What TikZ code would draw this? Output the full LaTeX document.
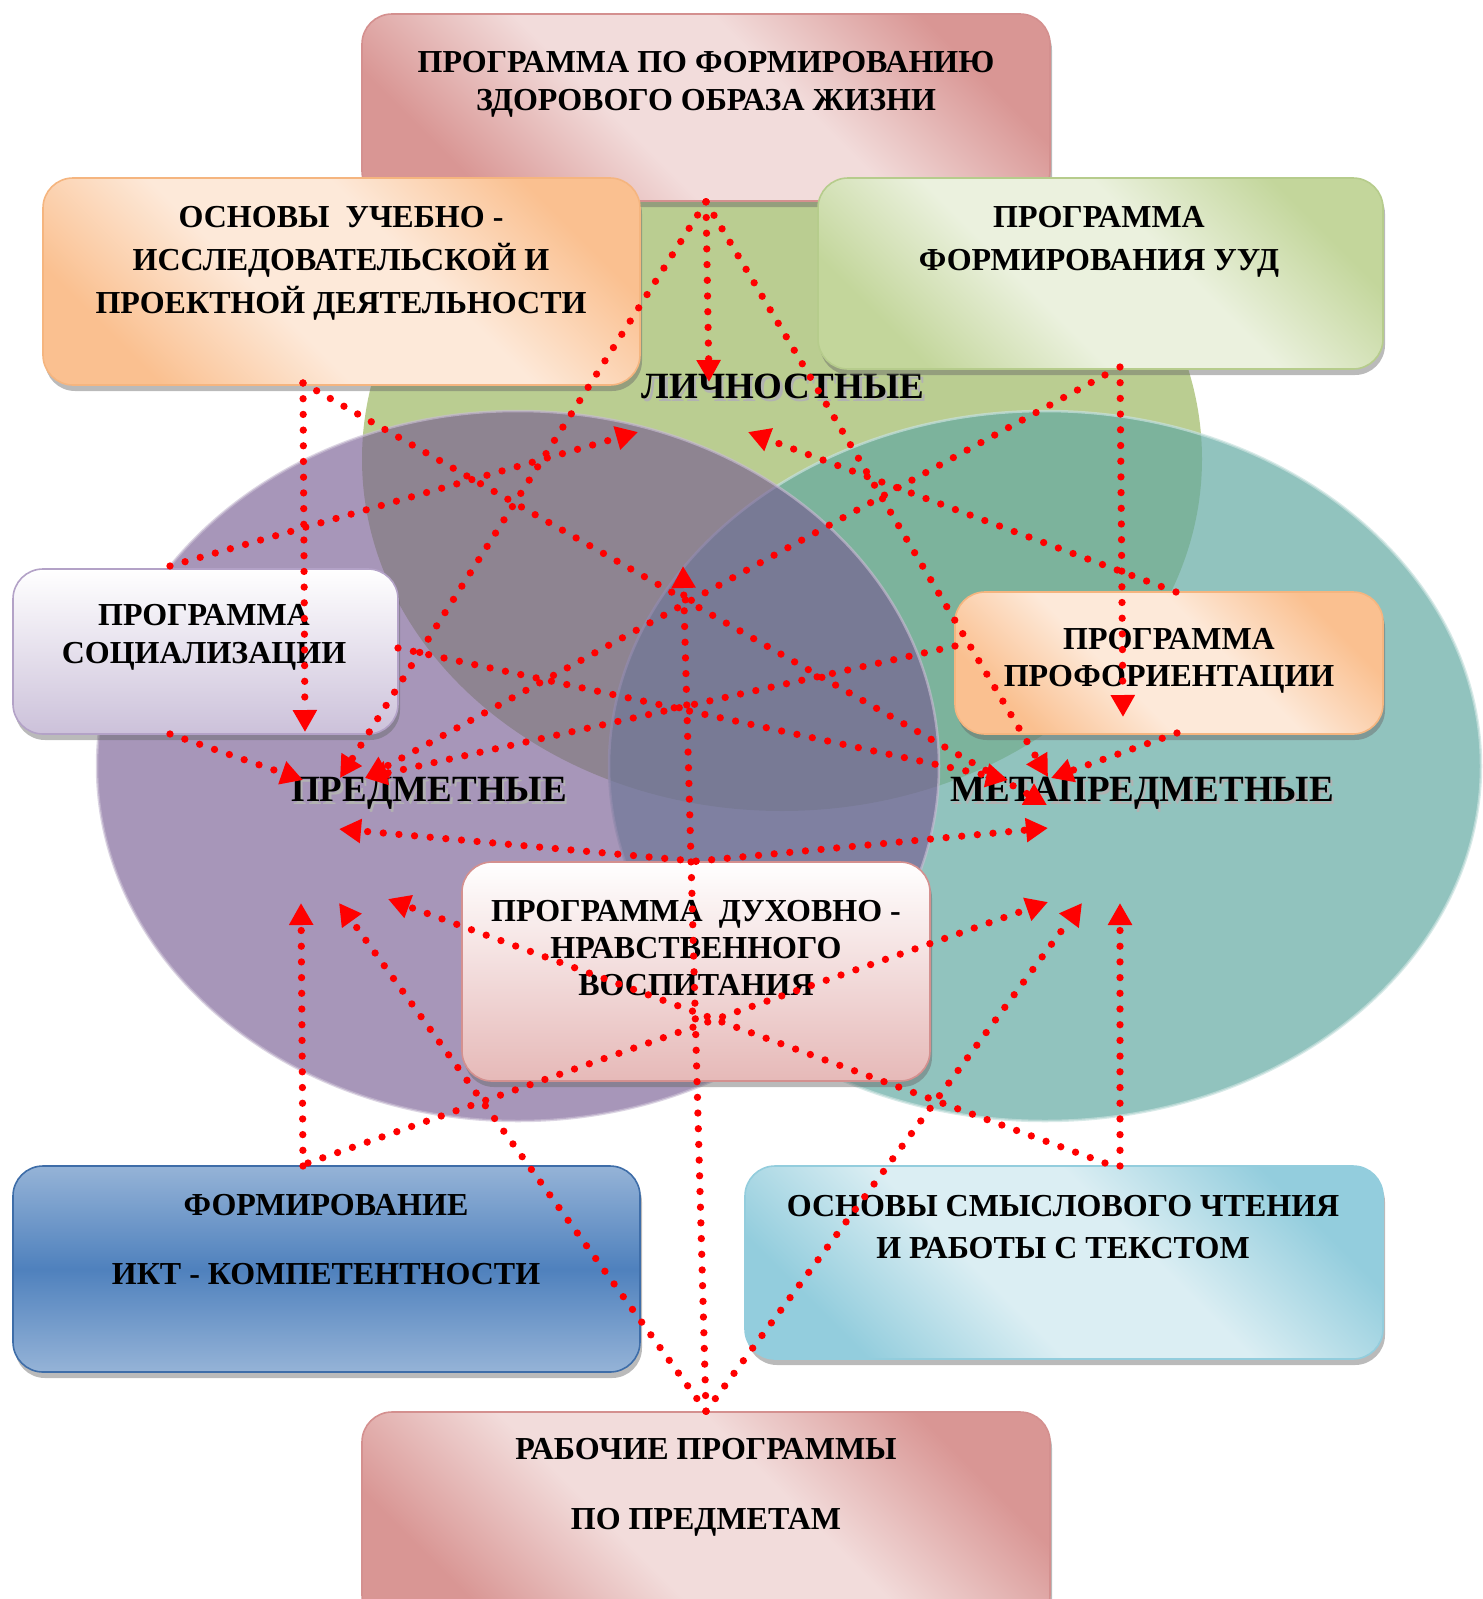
\documentclass[tikz,border=0pt]{standalone}
\usepackage{fontspec}
\setmainfont{Liberation Serif}
\usetikzlibrary{arrows.meta,shadows}

\definecolor{pinkDark}{HTML}{D99694}
\definecolor{pinkLight}{HTML}{F2DCDB}
\definecolor{pinkLine}{HTML}{D4908F}
\definecolor{orangeDark}{HTML}{FAC090}
\definecolor{orangeLight}{HTML}{FDE9D9}
\definecolor{orangeLine}{HTML}{F5B57F}
\definecolor{greenDark}{HTML}{C3D69B}
\definecolor{greenLight}{HTML}{EBF1DE}
\definecolor{greenLine}{HTML}{B6CC8C}
\definecolor{lilacDark}{HTML}{CCC1DA}
\definecolor{lilacLine}{HTML}{B3A2C7}
\definecolor{roseDark}{HTML}{E6B9B8}
\definecolor{blueDark}{HTML}{4F81BD}
\definecolor{blueLight}{HTML}{95B3D7}
\definecolor{blueLine}{HTML}{3E6DA8}
\definecolor{aquaDark}{HTML}{93CDDD}
\definecolor{aquaLight}{HTML}{DBEEF3}
\definecolor{ellGreen}{HTML}{BACD91}
\definecolor{ellTeal}{HTML}{63A9A2}
\definecolor{ellPurple}{HTML}{765B92}
\definecolor{fluxRed}{HTML}{FF0000}

% diagonal bands: dark corners, light middle
\pgfdeclareverticalshading{pinkBand}{100bp}{color(0bp)=(pinkDark); color(25bp)=(pinkDark); color(42bp)=(pinkLight); color(58bp)=(pinkLight); color(75bp)=(pinkDark); color(100bp)=(pinkDark)}
\pgfdeclareverticalshading{orangeBand}{100bp}{color(0bp)=(orangeDark); color(25bp)=(orangeDark); color(42bp)=(orangeLight); color(58bp)=(orangeLight); color(75bp)=(orangeDark); color(100bp)=(orangeDark)}
\pgfdeclareverticalshading{greenBand}{100bp}{color(0bp)=(greenDark); color(25bp)=(greenDark); color(42bp)=(greenLight); color(58bp)=(greenLight); color(75bp)=(greenDark); color(100bp)=(greenDark)}
\pgfdeclareverticalshading{aquaBand}{100bp}{color(0bp)=(aquaDark); color(25bp)=(aquaDark); color(42bp)=(aquaLight); color(58bp)=(aquaLight); color(75bp)=(aquaDark); color(100bp)=(aquaDark)}

\def \personalCenterX{782}
\def \personalCenterY{459}
\def \personalRX{420}
\def \personalRY{352}
\def \subjectCenterX{518}
\def \subjectCenterY{766}
\def \subjectRX{421}
\def \subjectRY{355}
\def \metaCenterX{1045}
\def \metaCenterY{766}
\def \metaRX{436}
\def \metaRY{355}

% label with a soft shadow
\newcommand{\shadowLabel}[1]{\rlap{\hspace{2.5pt}\raisebox{-3pt}{\textcolor{black!30}{#1}}}#1}

\tikzset{
  box/.style={draw, line width=1.6pt, rounded corners=30pt, inner sep=0pt,
    drop shadow={shadow xshift=2pt, shadow yshift=-6pt, opacity=0.45, fill=black!60}},
  diagShade/.style={shading=#1, shading angle=-45},
  boxText/.style={font=\bfseries\fontsize{32}{#1}\selectfont, align=center, inner sep=0pt},
  boxText/.default=38,
  ellText/.style={font=\bfseries\fontsize{37}{42}\selectfont, inner sep=0pt, anchor=base},
  flux/.style={draw=fluxRed, line width=7.3pt, line cap=round, dash pattern=on 0pt off 15.7pt,
    -{Triangle[length=22pt,width=23pt]}},
}

\begin{document}
\begin{tikzpicture}[x=1pt, y=-1pt]
\useasboundingbox (0,0) rectangle (1483,1599);

% ---- Ellipses
\fill[ellGreen] (\personalCenterX, \personalCenterY) ellipse [x radius=\personalRX, y radius=\personalRY];
\filldraw[fill=ellTeal, draw=ellTeal!35!white, line width=2.5pt, opacity=0.7] (\metaCenterX, \metaCenterY) ellipse [x radius=\metaRX, y radius=\metaRY];
\filldraw[fill=ellPurple, draw=ellPurple!40!white, line width=2.5pt, opacity=0.64] (\subjectCenterX, \subjectCenterY) ellipse [x radius=\subjectRX, y radius=\subjectRY];

% ---- Ellipse labels
\node[ellText] (personal) at (783,398) {\shadowLabel{ЛИЧНОСТНЫЕ}};
\node[ellText] (subject) at (429,801) {\shadowLabel{ПРЕДМЕТНЫЕ}};
\node[ellText] (metasubject) at (1142,801) {\shadowLabel{МЕТАПРЕДМЕТНЫЕ}};

% ---- Boxes
\node[box, draw=pinkLine, diagShade=pinkBand, minimum width=688pt, minimum height=187pt] (zozh) at (706,107.5) {};
\node[box, draw=orangeLine, diagShade=orangeBand, minimum width=597pt, minimum height=207pt] (osnovy) at (341.5,281.5) {};
\node[box, draw=greenLine, diagShade=greenBand, minimum width=565pt, minimum height=191pt] (uud) at (1100.5,273.5) {};
\node[box, draw=lilacLine, top color=white, bottom color=lilacDark, minimum width=385pt, minimum height=165pt] (socium) at (205.5,651.5) {};
\node[box, draw=orangeLine, diagShade=orangeBand, minimum width=428pt, minimum height=142pt] (proforient) at (1169,663) {};
\node[box, draw=pinkLine, top color=white, bottom color=roseDark, minimum width=468pt, minimum height=219pt] (dukhovno) at (696,971.5) {};
\node[box, draw=blueLine, top color=blueLight, bottom color=blueLight, middle color=blueDark, minimum width=627pt, minimum height=206pt] (ikt) at (326.5,1269) {};
\node[box, draw=aquaDark, diagShade=aquaBand, minimum width=638pt, minimum height=193pt] (chtenie) at (1064,1262.5) {};
\node[box, draw=pinkLine, diagShade=pinkBand, minimum width=688pt, minimum height=213pt] (rabochie) at (706,1518.5) {};

% ---- Box texts
\node[boxText] (zozhText) at (706,84) {ПРОГРАММА ПО ФОРМИРОВАНИЮ\\ЗДОРОВОГО ОБРАЗА ЖИЗНИ};
\node[boxText=43] (osnovyText) at (341,263) {ОСНОВЫ\ \ УЧЕБНО -\\ИССЛЕДОВАТЕЛЬСКОЙ И\\ПРОЕКТНОЙ ДЕЯТЕЛЬНОСТИ};
\node[boxText=43] (uudText) at (1099,242) {ПРОГРАММА\\ФОРМИРОВАНИЯ УУД};
\node[boxText] (sociumText) at (204,637) {ПРОГРАММА\\СОЦИАЛИЗАЦИИ};
\node[boxText=37] (profText) at (1169,660.5) {ПРОГРАММА\\ПРОФОРИЕНТАЦИИ};
\node[boxText=37] (dukhText) at (696,948) {ПРОГРАММА\ \ ДУХОВНО -\\НРАВСТВЕННОГО\\ВОСПИТАНИЯ};
\node[boxText=69] (iktText) at (326,1240) {ФОРМИРОВАНИЕ\\ИКТ - КОМПЕТЕНТНОСТИ};
\node[boxText=42] (chtenieText) at (1063,1227) {ОСНОВЫ СМЫСЛОВОГО ЧТЕНИЯ\\И РАБОТЫ С ТЕКСТОМ};
\node[boxText=70] (rabochieText) at (706,1487) {РАБОЧИЕ ПРОГРАММЫ\\ПО ПРЕДМЕТАМ};

% ---- Flux ends
\coordinate (osnovyOut) at (303,383);
\coordinate (uudOut) at (1120,367);
\coordinate (uudOutB) at (1105,375);
\coordinate (sociumTop) at (170,566);
\coordinate (sociumBottom) at (170,734);
\coordinate (sociumRight) at (398,648);
\coordinate (profTop) at (1176,592);
\coordinate (profLeft) at (955,646);
\coordinate (profBottom) at (1177,733);
\coordinate (iktOut) at (303,1166);
\coordinate (iktOutB) at (308,1163);
\coordinate (chtenieOut) at (1120,1166);
\coordinate (chtenieOutB) at (1105,1163);
\coordinate (lichTop) at (709,382);
\coordinate (lichLeft) at (638,432);
\coordinate (lichRight) at (748,432);
\coordinate (lichCenter) at (683,566);
\coordinate (predTop) at (305,732);
\coordinate (predLeft) at (303,780);
\coordinate (predA) at (340,778);
\coordinate (predB) at (365,778);
\coordinate (predMid) at (339,829);
\coordinate (predBotA) at (301,903);
\coordinate (predBotB) at (339,903);
\coordinate (predBotC) at (388,899);
\coordinate (metaA) at (1008,780);
\coordinate (metaB) at (1047,805);
\coordinate (metaC) at (1048,777);
\coordinate (metaD) at (1051,778);
\coordinate (metaTop) at (1123,717);
\coordinate (metaMid) at (1048,828);
\coordinate (metaBotA) at (1048,902);
\coordinate (metaBotB) at (1082,903);
\coordinate (metaBotC) at (1120,903);

% Flux
\draw[flux] (zozh.south) -- (lichTop);
\draw[flux] (zozh.south) -- (predA);
\draw[flux] (zozh.south) -- (metaC);
\draw[flux] (osnovyOut) -- (predTop);
\draw[flux] (osnovyOut) -- (metaB);
\draw[flux] (uudOut) -- (metaTop);
\draw[flux] (uudOutB) -- (predB);
\draw[flux] (sociumTop) -- (lichLeft);
\draw[flux] (sociumBottom) -- (predLeft);
\draw[flux] (sociumRight) -- (metaA);
\draw[flux] (profTop) -- (lichRight);
\draw[flux] (profLeft) -- (predB);
\draw[flux] (profBottom) -- (metaD);
\draw[flux] (dukhovno.north) -- (predMid);
\draw[flux] (dukhovno.north) -- (metaMid);
\draw[flux] (rabochie.north) -- (lichCenter);
\draw[flux] (rabochie.north) -- (predBotB);
\draw[flux] (rabochie.north) -- (metaBotB);
\draw[flux] (iktOut) -- (predBotA);
\draw[flux] (iktOutB) -- (metaBotA);
\draw[flux] (chtenieOut) -- (metaBotC);
\draw[flux] (chtenieOutB) -- (predBotC);
\end{tikzpicture}
\end{document}
